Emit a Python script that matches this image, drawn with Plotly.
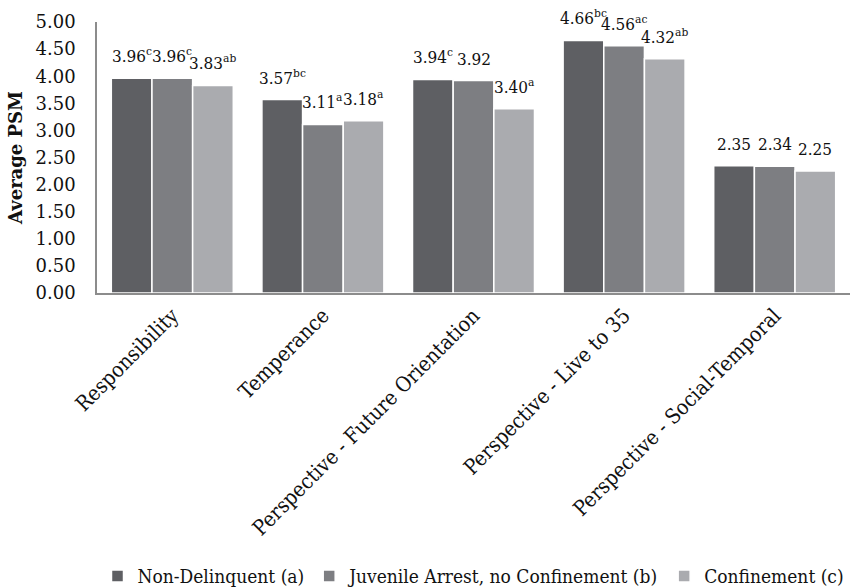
import plotly.graph_objects as go

categories = [
    "Responsibility",
    "Temperance",
    "Perspective - Future Orientation",
    "Perspective - Live to 35",
    "Perspective - Social-Temporal",
]
series_names = [
    "Non-Delinquent (a)",
    "Juvenile Arrest, no Confinement (b)",
    "Confinement (c)",
]
non_delinquent = [3.96, 3.57, 3.94, 4.66, 2.35]
juvenile_arrest = [3.96, 3.11, 3.92, 4.56, 2.34]
confinement = [3.83, 3.18, 3.40, 4.32, 2.25]

# significance letters shown as superscripts next to each mean
sig_non_delinquent = ["c", "bc", "c", "bc", ""]
sig_juvenile_arrest = ["c", "a", "", "ac", ""]
sig_confinement = ["ab", "a", "a", "ab", ""]

y_ticks = [0, 0.5, 1, 1.5, 2, 2.5, 3, 3.5, 4, 4.5, 5]

colors = ["#5e5f63", "#7d7e82", "#aaabaf"]
SERIF = "DejaVu Serif"
SERIF_C = "DejaVu Serif Condensed"
INK = "#111111"

GROUP_WIDTH = 0.81
n_series = len(series_names)
bar_w = GROUP_WIDTH / n_series
xpos = list(range(len(categories)))

fig = go.Figure()
annotations = []
for k, (name, vals, sigs, col) in enumerate(zip(
    series_names,
    [non_delinquent, juvenile_arrest, confinement],
    [sig_non_delinquent, sig_juvenile_arrest, sig_confinement],
    colors,
)):
    offset = -GROUP_WIDTH / 2 + k * bar_w
    fig.add_trace(go.Bar(
        name=name,
        x=xpos,
        y=vals,
        offset=offset,
        width=bar_w,
        marker=dict(color=col, line=dict(color="white", width=1.5)),
        hoverinfo="y+name",
    ))
    for xi, v, s in zip(xpos, vals, sigs):
        label = f"{v:.2f}" + (f"<sup>{s}</sup>" if s else "")
        annotations.append(dict(
            x=xi + offset + bar_w / 2,
            y=v,
            xref="x",
            yref="y",
            text=label,
            showarrow=False,
            xanchor="center",
            yanchor="bottom",
            yshift=10,
            font=dict(family=SERIF_C, size=17, color=INK),
        ))

fig.update_layout(
    width=853,
    height=588,
    barmode="overlay",
    plot_bgcolor="white",
    paper_bgcolor="white",
    margin=dict(l=97, r=3, t=22, b=295, autoexpand=False),
    font=dict(family=SERIF_C, size=17, color=INK),
    annotations=annotations,
    showlegend=True,
    legend=dict(
        orientation="h",
        x=0.5,
        xanchor="center",
        y=-0.975,
        yanchor="top",
        font=dict(family=SERIF_C, size=19, color=INK),
        itemwidth=30,
        tracegroupgap=0,
    ),
)
fig.update_xaxes(
    range=[-0.5, len(categories) - 0.5],
    tickmode="array",
    tickvals=xpos,
    ticktext=categories,
    tickangle=-45,
    tickfont=dict(family=SERIF_C, size=21, color=INK),
    showline=True,
    linecolor="#8c8c8c",
    linewidth=2,
    showgrid=False,
    zeroline=False,
    ticks="",
    automargin=False,
)
fig.update_yaxes(
    range=[0, 5],
    tickmode="array",
    tickvals=y_ticks,
    tickformat=".2f",
    showgrid=False,
    zeroline=False,
    showline=True,
    linecolor="#8c8c8c",
    linewidth=1.5,
    ticks="",
    ticklabelstandoff=16,
    automargin=False,
    tickfont=dict(family=SERIF, size=18, color=INK),
    title=dict(text="<b>Average PSM</b>", font=dict(family=SERIF, size=18, color=INK), standoff=8),
)

fig.write_html("out.html")
